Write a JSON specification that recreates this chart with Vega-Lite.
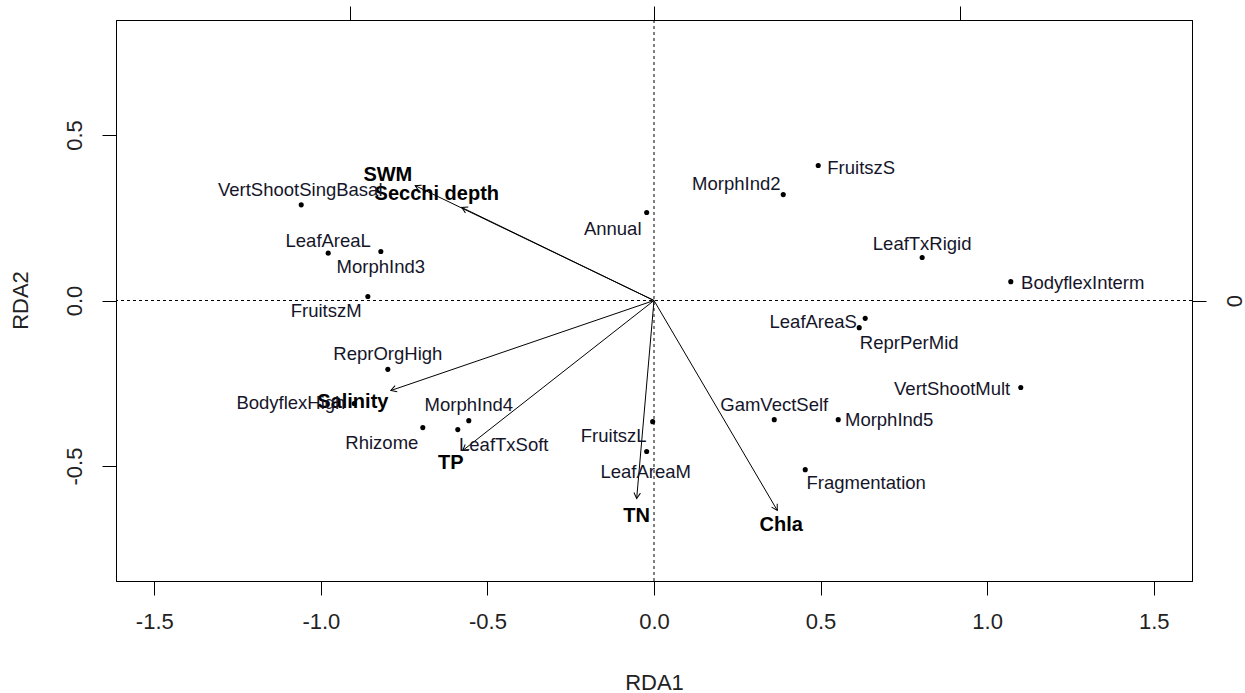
{
  "$schema": "https://vega.github.io/schema/vega-lite/v6.json",
  "autosize": {"type": "none"},
  "padding": {"left": 116, "top": 20, "right": 53, "bottom": 112},
  "width": 1076,
  "height": 561,
  "background": "white",
  "config": {
    "view": {"stroke": "black", "strokeWidth": 1},
    "axis": {
      "grid": false,
      "domainColor": "black",
      "tickColor": "black",
      "labelColor": "#222222",
      "titleColor": "#222222",
      "labelFont": "Liberation Sans",
      "titleFont": "Liberation Sans",
      "labelFontSize": 22,
      "titleFontSize": 22,
      "titleFontWeight": "normal",
      "tickSize": 14,
      "labelFlush": false,
      "labelOverlap": false
    },
    "text": {"font": "Liberation Sans"}
  },
  "datasets": {
    "species": [
      {"name": "VertShootSingBasal", "x": -1.059, "y": 0.289, "lx": -1.062, "ly": 0.335},
      {"name": "LeafAreaL", "x": -0.978, "y": 0.143, "lx": -0.978, "ly": 0.181},
      {"name": "MorphInd3", "x": -0.820, "y": 0.148, "lx": -0.820, "ly": 0.100},
      {"name": "FruitszM", "x": -0.859, "y": 0.012, "lx": -0.984, "ly": -0.033},
      {"name": "ReprOrgHigh", "x": -0.799, "y": -0.208, "lx": -0.799, "ly": -0.163},
      {"name": "BodyflexHigh", "x": -0.900, "y": -0.311, "lx": -1.090, "ly": -0.311},
      {"name": "MorphInd4", "x": -0.556, "y": -0.363, "lx": -0.556, "ly": -0.317},
      {"name": "Rhizome", "x": -0.694, "y": -0.384, "lx": -0.817, "ly": -0.429},
      {"name": "LeafTxSoft", "x": -0.589, "y": -0.390, "lx": -0.451, "ly": -0.438},
      {"name": "Annual", "x": -0.022, "y": 0.266, "lx": -0.124, "ly": 0.215},
      {"name": "MorphInd2", "x": 0.388, "y": 0.320, "lx": 0.247, "ly": 0.353},
      {"name": "FruitszS", "x": 0.493, "y": 0.408, "lx": 0.622, "ly": 0.399},
      {"name": "LeafTxRigid", "x": 0.805, "y": 0.130, "lx": 0.805, "ly": 0.172},
      {"name": "BodyflexInterm", "x": 1.071, "y": 0.057, "lx": 1.287, "ly": 0.054},
      {"name": "LeafAreaS", "x": 0.634, "y": -0.054, "lx": 0.478, "ly": -0.066},
      {"name": "ReprPerMid", "x": 0.616, "y": -0.082, "lx": 0.766, "ly": -0.127},
      {"name": "VertShootMult", "x": 1.101, "y": -0.263, "lx": 0.895, "ly": -0.266},
      {"name": "GamVectSelf", "x": 0.361, "y": -0.360, "lx": 0.361, "ly": -0.317},
      {"name": "MorphInd5", "x": 0.553, "y": -0.360, "lx": 0.706, "ly": -0.360},
      {"name": "FruitszL", "x": -0.004, "y": -0.366, "lx": -0.121, "ly": -0.408},
      {"name": "LeafAreaM", "x": -0.022, "y": -0.456, "lx": -0.025, "ly": -0.517},
      {"name": "Fragmentation", "x": 0.454, "y": -0.511, "lx": 0.637, "ly": -0.550}
    ],
    "env": [
      {"name": "SWM", "x": -0.717, "y": 0.347, "lx": -0.799, "ly": 0.378},
      {"name": "Secchi depth", "x": -0.577, "y": 0.281, "lx": -0.652, "ly": 0.323},
      {"name": "Salinity", "x": -0.790, "y": -0.272, "lx": -0.904, "ly": -0.308},
      {"name": "TP", "x": -0.574, "y": -0.453, "lx": -0.610, "ly": -0.492},
      {"name": "TN", "x": -0.052, "y": -0.598, "lx": -0.052, "ly": -0.650},
      {"name": "Chla", "x": 0.370, "y": -0.634, "lx": 0.382, "ly": -0.677}
    ]
  },
  "resolve": {"axis": {"x": "independent", "y": "independent"}},
  "layer": [
    {
      "data": {"values": [{"origin": 0}]},
      "mark": {"type": "rule", "color": "black", "strokeWidth": 1, "strokeDash": [3, 3]},
      "encoding": {
        "x": {
          "field": "origin", "type": "quantitative",
          "scale": {"domain": [-1.615, 1.615], "nice": false, "zero": false},
          "axis": {"orient": "top", "values": [-0.913, 0, 0.918], "labels": false, "title": null, "tickSize": 14}
        }
      }
    },
    {
      "data": {"values": [{"origin": 0}]},
      "mark": {"type": "rule", "color": "black", "strokeWidth": 1, "strokeDash": [3, 3]},
      "encoding": {
        "y": {
          "field": "origin", "type": "quantitative",
          "scale": {"domain": [-0.8474, 0.8474], "nice": false, "zero": false},
          "axis": {
            "orient": "right", "values": [0], "labelExpr": "'0'", "title": null,
            "labelAngle": -90, "labelAlign": "center", "labelBaseline": "top", "labelPadding": 18
          }
        }
      }
    },
    {
      "data": {"name": "env"},
      "mark": {"type": "rule", "color": "black", "strokeWidth": 1},
      "encoding": {
        "x": {"field": "x", "type": "quantitative", "scale": {"domain": [-1.615, 1.615], "nice": false, "zero": false}, "axis": null},
        "y": {"field": "y", "type": "quantitative", "scale": {"domain": [-0.8474, 0.8474], "nice": false, "zero": false}, "axis": null},
        "x2": {"datum": 0},
        "y2": {"datum": 0}
      }
    },
    {
      "data": {"name": "env"},
      "transform": [
        {"calculate": "(atan2(datum.x, datum.y) * 180 / PI + 360) % 360", "as": "heading"}
      ],
      "mark": {
        "type": "point",
        "shape": "M -0.5 0.866 L 0 0 L 0.5 0.866",
        "filled": false,
        "stroke": "black",
        "strokeWidth": 1,
        "size": 170,
        "opacity": 1
      },
      "encoding": {
        "x": {"field": "x", "type": "quantitative", "scale": {"domain": [-1.615, 1.615], "nice": false, "zero": false}, "axis": null},
        "y": {"field": "y", "type": "quantitative", "scale": {"domain": [-0.8474, 0.8474], "nice": false, "zero": false}, "axis": null},
        "angle": {"field": "heading", "type": "quantitative", "scale": null}
      }
    },
    {
      "data": {"name": "env"},
      "mark": {"type": "text", "fontSize": 20, "fontWeight": "bold", "color": "black", "align": "center", "baseline": "middle"},
      "encoding": {
        "x": {"field": "lx", "type": "quantitative", "scale": {"domain": [-1.615, 1.615], "nice": false, "zero": false}, "axis": null},
        "y": {"field": "ly", "type": "quantitative", "scale": {"domain": [-0.8474, 0.8474], "nice": false, "zero": false}, "axis": null},
        "text": {"field": "name"}
      }
    },
    {
      "data": {"name": "species"},
      "mark": {"type": "point", "filled": true, "shape": "circle", "color": "black", "size": 26, "opacity": 1},
      "encoding": {
        "x": {
          "field": "x", "type": "quantitative",
          "scale": {"domain": [-1.615, 1.615], "nice": false, "zero": false},
          "axis": {
            "orient": "bottom", "values": [-1.5, -1, -0.5, 0, 0.5, 1, 1.5],
            "labelExpr": "datum.value < 0 ? '-' + format(-datum.value, '.1f') : format(datum.value, '.1f')",
            "labelPadding": 16,
            "title": "RDA1", "titleX": 538, "titleY": 101, "titleBaseline": "middle", "titleAlign": "center"
          }
        },
        "y": {
          "field": "y", "type": "quantitative",
          "scale": {"domain": [-0.8474, 0.8474], "nice": false, "zero": false},
          "axis": {
            "orient": "left", "values": [-0.5, 0, 0.5],
            "labelExpr": "datum.value < 0 ? '-' + format(-datum.value, '.1f') : format(datum.value, '.1f')",
            "labelAngle": -90, "labelAlign": "center", "labelBaseline": "bottom", "labelPadding": 16,
            "title": "RDA2", "titleX": -96, "titleY": 280, "titleAngle": -90, "titleBaseline": "middle", "titleAlign": "center"
          }
        }
      }
    },
    {
      "data": {"name": "species"},
      "mark": {"type": "text", "fontSize": 18.5, "color": "#15152a", "align": "center", "baseline": "middle"},
      "encoding": {
        "x": {"field": "lx", "type": "quantitative", "scale": {"domain": [-1.615, 1.615], "nice": false, "zero": false}, "axis": null},
        "y": {"field": "ly", "type": "quantitative", "scale": {"domain": [-0.8474, 0.8474], "nice": false, "zero": false}, "axis": null},
        "text": {"field": "name"}
      }
    }
  ]
}
